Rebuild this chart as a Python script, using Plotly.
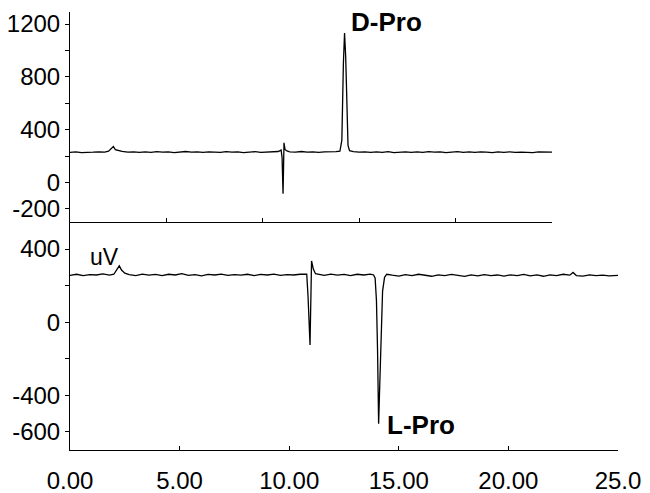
import plotly.graph_objects as go

# ---------------- data ----------------
# Top chromatogram (D-Pro)
top_time = [0.0, 0.3, 0.6, 0.9, 1.2, 1.5, 1.8, 2.0, 2.15, 2.25, 2.35, 2.5, 2.7, 3.0,
            3.3, 3.6, 3.9, 4.2, 4.5, 4.8, 5.1, 5.4, 5.7, 6.0, 6.3, 6.6, 6.9, 7.2,
            7.5, 7.8, 8.1, 8.4, 8.7, 9.0, 9.3, 9.6, 9.9, 10.2, 10.5, 10.8, 10.95,
            11.0, 11.05, 11.1, 11.15, 11.25, 11.4, 11.7, 12.0, 12.3, 12.6, 12.9,
            13.2, 13.5, 13.8, 14.0, 14.1, 14.18, 14.24, 14.3, 14.36, 14.42, 14.5,
            14.7, 15.0, 15.3, 15.6, 15.9, 16.2, 16.5, 16.8, 17.1, 17.4, 17.7, 18.0,
            18.3, 18.6, 18.9, 19.2, 19.5, 19.8, 20.1, 20.4, 20.7, 21.0, 21.3, 21.6,
            21.9, 22.2, 22.5, 22.8, 23.1, 23.4, 23.7, 24.0, 24.3, 24.6, 25.0]
top_signal = [228, 231, 226, 230, 229, 232, 230, 236, 262, 272, 248, 240, 235, 229,
              232, 227, 231, 228, 233, 229, 231, 226, 230, 234, 229, 231, 227, 232,
              230, 228, 233, 229, 231, 226, 230, 233, 228, 231, 229, 234, 245,
              190, -86, 300, 250, 238, 232, 230, 234, 229, 231, 227,
              232, 230, 233, 236, 320, 900, 1132, 950, 500, 280, 240,
              233, 229, 232, 227, 231, 228, 233, 226, 230, 232, 228, 231,
              227, 233, 229, 231, 226, 230, 233, 228, 231, 227, 232, 229,
              226, 231, 228, 232, 227, 230, 229, 226, 231, 228, 229]

# Bottom chromatogram (L-Pro)
bot_time = [0.0, 0.3, 0.6, 0.9, 1.2, 1.5, 1.8, 2.0, 2.15, 2.25, 2.35, 2.5, 2.7, 3.0,
            3.3, 3.6, 3.9, 4.2, 4.5, 4.8, 5.1, 5.4, 5.7, 6.0, 6.3, 6.6, 6.9, 7.2,
            7.5, 7.8, 8.1, 8.4, 8.7, 9.0, 9.3, 9.6, 9.9, 10.2, 10.5, 10.8, 10.86,
            10.95, 11.02, 11.1, 11.2, 11.35, 11.6, 11.9, 12.2, 12.5, 12.8, 13.1,
            13.4, 13.7, 13.85, 13.92, 13.98, 14.03, 14.08, 14.13, 14.19, 14.26,
            14.35, 14.45, 14.7, 15.0, 15.3, 15.6, 15.9, 16.2, 16.5, 16.8, 17.1,
            17.4, 17.7, 18.0, 18.3, 18.6, 18.9, 19.2, 19.5, 19.8, 20.1, 20.4, 20.7,
            21.0, 21.3, 21.6, 21.9, 22.2, 22.5, 22.8, 22.95, 23.1, 23.4, 23.7, 24.0,
            24.3, 24.6, 25.0]
bot_signal = [256, 262, 255, 260, 258, 264, 257, 262, 290, 308, 285, 268, 260, 255,
              263, 257, 261, 254, 262, 258, 265, 256, 260, 253, 261, 258, 263, 256,
              260, 257, 262, 255, 261, 258, 263, 256, 260, 258, 262, 262, 140,
              -125, 335, 290, 265, 262, 256, 263, 257, 261, 254, 262,
              258, 263, 258, 240, 120, -150, -556, -350, -60, 170,
              245, 262, 257, 252, 260, 255, 262, 256, 251, 259, 254,
              261, 255, 250, 258, 253, 260, 254, 258, 252, 259, 255, 261,
              253, 258, 251, 259, 254, 262, 257, 272, 255, 252, 259, 254,
              257, 253, 256]

top_ytick_vals = [-200, 0, 200, 400, 600, 800, 1000, 1200]
top_ytick_text = ["-200", "0", "", "400", "", "800", "", "1200"]
bot_ytick_vals = [-600, -400, -200, 0, 200, 400]
bot_ytick_text = ["-600", "-400", "", "0", "", "400"]
xtick_vals = [0, 5, 10, 15, 20, 25]
xtick_text = ["0.00", "5.00", "10.00", "15.00", "20.00", "25.0"]

# ---------------- figure ----------------
W, H = 650, 493
FONT = "Liberation Sans, Arial, sans-serif"

def px_x(p):
    return p / W

def px_y(p):
    return 1 - p / H

fig = go.Figure()
fig.add_trace(go.Scatter(x=top_time, y=top_signal, mode="lines",
                         line=dict(color="black", width=1.3),
                         xaxis="x2", yaxis="y2", hoverinfo="skip"))
fig.add_trace(go.Scatter(x=bot_time, y=bot_signal, mode="lines",
                         line=dict(color="black", width=1.3),
                         xaxis="x", yaxis="y", hoverinfo="skip"))

axis_common = dict(showgrid=False, zeroline=False, showline=True,
                   automargin=False,
                   linecolor="black", linewidth=1, ticks="outside",
                   tickcolor="black", ticklen=4, tickwidth=1,
                   tickfont=dict(family=FONT, size=24, color="black"))

fig.update_layout(
    template="none",
    width=W, height=H,
    margin=dict(l=0, r=0, t=0, b=0, pad=0),
    paper_bgcolor="white", plot_bgcolor="white",
    showlegend=False,
    xaxis=dict(axis_common, domain=[px_x(70), px_x(618)], range=[0, 25],
               anchor="y", tickvals=xtick_vals, ticktext=xtick_text,
               ticks="inside", ticklabelstandoff=9),
    yaxis=dict(axis_common, domain=[px_y(450), px_y(222)], range=[-700, 548],
               anchor="x", tickvals=bot_ytick_vals, ticktext=bot_ytick_text),
    xaxis2=dict(axis_common, domain=[px_x(70), px_x(552)], range=[0, 25],
                anchor="y2", tickvals=xtick_vals, showticklabels=False,
                ticks="inside"),
    yaxis2=dict(axis_common, domain=[px_y(222), px_y(12)], range=[-300, 1291],
                anchor="x2", tickvals=top_ytick_vals, ticktext=top_ytick_text),
    annotations=[
        dict(text="<b>D-Pro</b>", x=14.45, y=1216, xref="x2", yref="y2",
             xanchor="left", yanchor="middle", showarrow=False,
             font=dict(family=FONT, size=26, color="black")),
        dict(text="<b>L-Pro</b>", x=14.38, y=-562, xref="x", yref="y",
             xanchor="left", yanchor="middle", showarrow=False,
             font=dict(family=FONT, size=26, color="black")),
        dict(text="uV", x=0.82, y=356, xref="x", yref="y",
             xanchor="left", yanchor="middle", showarrow=False,
             font=dict(family=FONT, size=23, color="black")),
    ],
)

fig.write_html("out.html",
               config={"displayModeBar": False},
               post_script="document.body.style.margin='0';document.body.style.overflow='hidden';")
